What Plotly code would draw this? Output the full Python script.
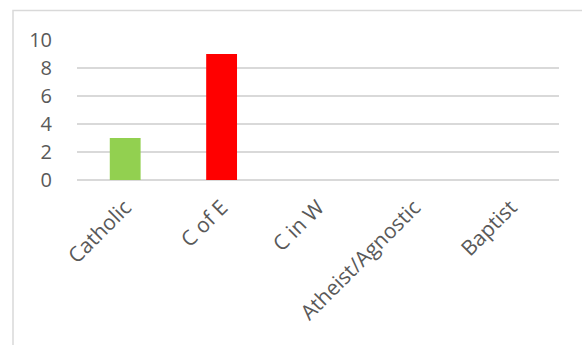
import plotly.graph_objects as go

# Religion counts
categories = ["Catholic", "C of E", "C in W", "Atheist/Agnostic", "Baptist"]
counts = [3, 9, 0, 0, 0]
bar_colors = ["#92D050", "#FF0000", "#4472C4", "#4472C4", "#4472C4"]
y_ticks = [0, 2, 4, 6, 8, 10]

W, H = 582, 345
ml, mr, mt, mb = 77, 23, 40, 165
pw, ph = W - ml - mr, H - mt - mb

fig = go.Figure(
    go.Bar(
        x=categories,
        y=counts,
        marker=dict(color=bar_colors, line=dict(width=0)),
        hoverinfo="x+y",
    )
)

# Outer chart border, in plot-area paper units
fig.add_shape(
    type="rect",
    xref="paper", yref="paper",
    x0=(13 - ml) / pw, x1=(W + 2 - ml) / pw,
    y0=-(H + 5 - mt - ph) / ph, y1=1 + (mt - 10.5) / ph,
    line=dict(color="#D9D9D9", width=1.5),
    fillcolor="rgba(0,0,0,0)",
    layer="below",
)

yfont = dict(family="Open Sans, sans-serif", size=20, color="#595959")
xfont = dict(family="Open Sans, sans-serif", size=21, color="#595959")

fig.update_layout(
    width=W, height=H,
    margin=dict(l=ml, r=mr, t=mt, b=mb, pad=0),
    paper_bgcolor="white",
    plot_bgcolor="white",
    bargap=0.68,
    showlegend=False,
    font=yfont,
    xaxis=dict(
        type="category",
        tickangle=-45,
        tickfont=xfont,
        showgrid=False,
        showline=False,
        ticks="",
        zeroline=False,
        ticklabelstandoff=10,
    ),
    yaxis=dict(
        range=[0, 10],
        tickvals=y_ticks,
        tickfont=yfont,
        showgrid=True,
        gridcolor="#D9D9D9",
        gridwidth=1.5,
        zeroline=True,
        zerolinecolor="#D9D9D9",
        zerolinewidth=1.5,
        showline=False,
        ticks="",
        ticklabelstandoff=24,
    ),
)

fig.write_html("out.html")
